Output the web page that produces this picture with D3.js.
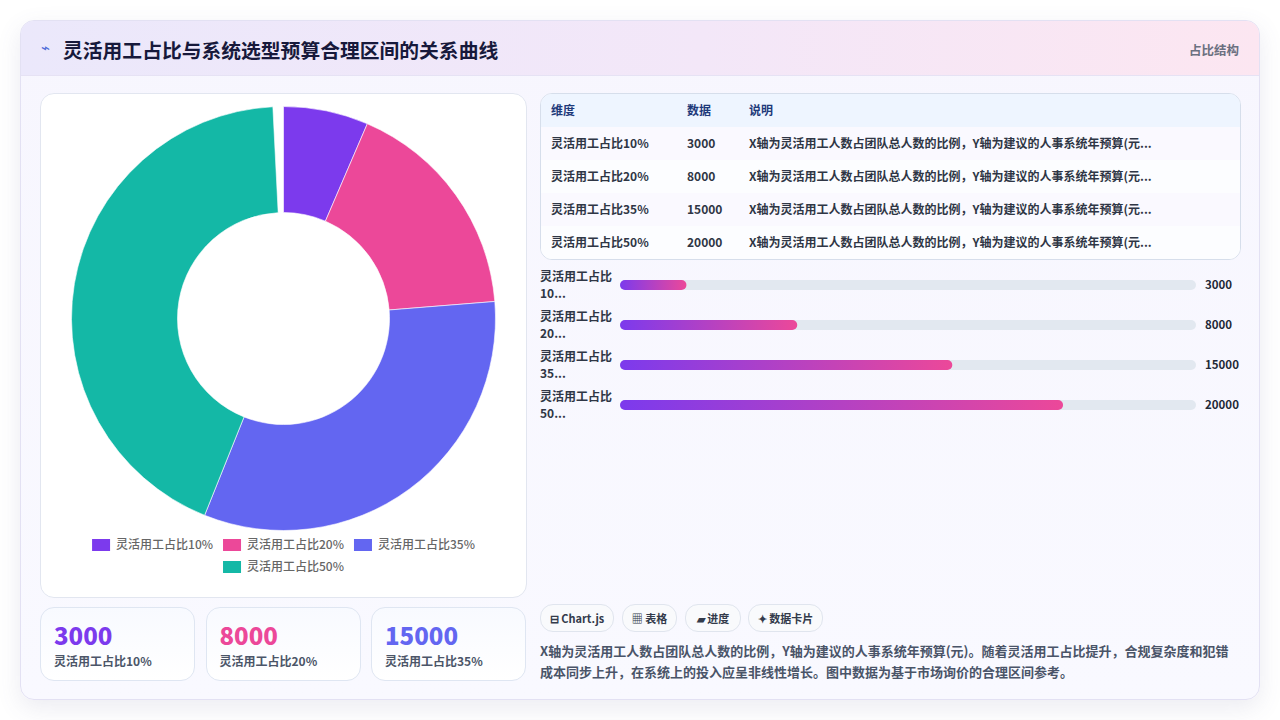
<!DOCTYPE html>
<html>
<head>
<meta charset="utf-8">
<script src="https://cdn.jsdelivr.net/npm/d3@7"></script>
<style>
  html, body { margin:0; padding:0; width:1280px; height:720px; background:#ffffff; overflow:hidden;
    font-family:"Noto Sans CJK SC","Noto Sans",sans-serif; }
  #card { position:absolute; left:20px; top:20px; width:1238px; height:678px; border-radius:14px;
    background:linear-gradient(180deg,#f7f6fe 0%,#f9f9ff 100%); border:1px solid #e3e1f3;
    box-shadow:0 8px 24px rgba(90,90,140,0.12); overflow:hidden; }
  #head { position:absolute; left:0; top:0; width:100%; height:54px;
    background:linear-gradient(90deg,#ebe8fb 0%,#f3e7f8 55%,#fce6f1 100%); border-bottom:1px solid #e6e2f4; }
  #head .icon { position:absolute; left:20px; top:15px; font-size:15px; color:#4f6bd8; }
  #head .title { position:absolute; left:42px; top:14px; font-size:19.8px; font-weight:700; color:#17193b; }
  #head .tag { position:absolute; right:20px; top:19px; font-size:12.5px; font-weight:700; color:#6b7080; }
  .panel { position:absolute; background:#fff; border:1px solid #e2e6f0; border-radius:14px; }
  .kpi { position:absolute; top:586px; width:153px; height:72px; border:1px solid #dfe6f2; border-radius:14px;
    background:linear-gradient(180deg,#f8faff,#ffffff); }
  .kpi .v { position:absolute; left:13px; top:9px; font-size:24px; font-weight:800; }
  .kpi .l { position:absolute; left:13px; top:44px; font-size:12px; font-weight:700; color:#4b5568; }
  #tbl { position:absolute; left:519px; top:72px; width:699px; height:165px; border:1px solid #d6deeb; border-radius:12px; overflow:hidden; background:#fff; }
  .row { position:absolute; left:0; width:100%; height:33px; border-bottom:1px solid #e3e8f0; }
  .row span { position:absolute; top:7px; font-size:12px; font-weight:700; color:#2f3645; white-space:nowrap; }
  .row.hd { background:#eef5ff; }
  .row.hd span { color:#1e3a7a; }
  .chip { position:absolute; top:583px; height:26px; border:1px solid #e0e5ee; border-radius:13px; background:#f9fafc;
    font-size:11px; font-weight:700; color:#333b4b; line-height:26px; text-align:center; }
  #desc { position:absolute; left:519px; top:619px; width:700px; font-size:13px; font-weight:700; color:#4a5468; line-height:21px; }
</style>
</head>
<body>
<div id="card">
  <div id="head">
    <span class="icon">⌁</span>
    <span class="title">灵活用工占比与系统选型预算合理区间的关系曲线</span>
    <span class="tag">占比结构</span>
  </div>
</div>
<script>
// 数据
var categories = ["灵活用工占比10%", "灵活用工占比20%", "灵活用工占比35%", "灵活用工占比50%"];
var values = [3000, 8000, 15000, 20000];
var colors = ["#7c3aed", "#ec4899", "#6366f1", "#14b8a6"];
var note = "X轴为灵活用工人数占团队总人数的比例，Y轴为建议的人事系统年预算(元)。随着灵活用工占比提升，合规复杂度和犯错成本同步上升，在系统上的投入应呈非线性增长。图中数据为基于市场询价的合理区间参考。";
var chips = ["⊟ Chart.js", "▦ 表格", "▰ 进度", "✦ 数据卡片"];
var tableHead = ["维度", "数据", "说明"];

var card = d3.select("#card");

// ---- donut panel ----
var donutPanel = card.append("div").attr("class","panel")
  .style("left","19px").style("top","72px").style("width","485px").style("height","503px");

var svg = donutPanel.append("svg").attr("width",485).attr("height",503);
var cx = 242.5, cy = 224.5, rOut = 212, rIn = 106;

// animation was caught just short of a full turn
var pie = d3.pie().sort(null).startAngle(0).endAngle(Math.PI*2*0.992);
var arc = d3.arc().innerRadius(rIn).outerRadius(rOut);

svg.append("g").attr("transform","translate("+cx+","+cy+")")
  .selectAll("path.slice")
  .data(pie(values))
  .enter().append("path")
  .attr("class","slice")
  .attr("d",arc)
  .attr("fill",function(d,i){return colors[i];})
  .attr("stroke","#ffffff")
  .attr("stroke-width",0.6);

// legend, chart.js style rows
var legend = svg.append("g").attr("class","legend");
var boxW = 18, boxH = 12, gapTxt = 6, itemPad = 10, maxRow = 420;
var tmp = legend.append("text").style("font-size","12px").style("font-weight",500);
var widths = categories.map(function(c){ tmp.text(c); return boxW + gapTxt + tmp.node().getComputedTextLength() + itemPad; });
tmp.remove();
var rows = [[]], rowW = [0];
widths.forEach(function(w,i){
  var r = rows.length-1;
  if(rowW[r] + w > maxRow && rows[r].length){ rows.push([]); rowW.push(0); r++; }
  rows[r].push(i); rowW[r] += w;
});
rows.forEach(function(row,ri){
  var x = (485 - (rowW[ri]-itemPad))/2;
  var y = 451 + ri*22;
  row.forEach(function(i){
    legend.append("rect").attr("x",x).attr("y",y-boxH/2).attr("width",boxW).attr("height",boxH).attr("fill",colors[i]);
    legend.append("text").attr("x",x+boxW+gapTxt).attr("y",y).attr("dy","0.35em")
      .style("font-size","12px").style("font-weight",500).style("fill","#666")
      .text(categories[i]);
    x += widths[i];
  });
});

// ---- kpi cards ----
[0,1,2].forEach(function(i){
  var k = card.append("div").attr("class","kpi").style("left",(19+i*165.5)+"px");
  k.append("div").attr("class","v").style("color",colors[i]).text(values[i]);
  k.append("div").attr("class","l").text(categories[i]);
});

// ---- table ----
var tbl = card.append("div").attr("id","tbl");
var colX = [10, 146, 208];
var hd = tbl.append("div").attr("class","row hd").style("top","0px");
tableHead.forEach(function(t,j){ hd.append("span").style("left",colX[j]+"px").text(t); });
categories.forEach(function(c,i){
  var r = tbl.append("div").attr("class","row").style("top",(33*(i+1))+"px")
    .style("background", i%2==0 ? "#faf9ff" : "#fcfdff")
    .style("border-bottom", i==categories.length-1 ? "none" : null);
  r.append("span").style("left",colX[0]+"px").text(c);
  r.append("span").style("left",colX[1]+"px").text(values[i]);
  r.append("span").style("left",colX[2]+"px").text(note.slice(0,34)+"...");
});

// ---- progress bars ----
var barSvg = card.append("svg").style("position","absolute").style("left","515px").style("top","240px")
  .attr("width",720).attr("height",170);
var defs = barSvg.append("defs");
var grad = defs.append("linearGradient").attr("id","barGrad").attr("gradientUnits","objectBoundingBox");
grad.append("stop").attr("offset","0%").attr("stop-color","#7c3aed");
grad.append("stop").attr("offset","100%").attr("stop-color","#ec4899");

var trackX = 84, trackW = 576;
var x = d3.scaleLinear().domain([0, d3.max(values)*1.3]).range([0, trackW]);
var y = d3.scaleBand().domain(categories).range([4, 164]).paddingInner(0);

var bar = barSvg.selectAll("g.bar").data(categories).enter().append("g").attr("class","bar")
  .attr("transform",function(d){ return "translate(0,"+(y(d)+y.bandwidth()/2)+")"; });
bar.append("text").attr("x",4).attr("y",-4).style("font-size","12px").style("font-weight",700).style("fill","#2f3645")
  .text(function(d){ return d.slice(0,6); });
bar.append("text").attr("x",4).attr("y",13).style("font-size","12px").style("font-weight",700).style("fill","#2f3645")
  .text(function(d){ return d.slice(6,8)+"..."; });
bar.append("rect").attr("x",trackX).attr("y",-5).attr("height",10).attr("rx",5)
  .attr("width",trackW).attr("fill","#e2e8f0");
bar.append("rect").attr("x",trackX).attr("y",-5).attr("height",10).attr("rx",5)
  .attr("width",function(d,i){ return x(values[i]); }).attr("fill","url(#barGrad)");
bar.append("text").attr("x",trackX+trackW+9).attr("dy","0.35em")
  .style("font-size","11.5px").style("font-weight",700).style("fill","#1f2937")
  .text(function(d,i){ return values[i]; });

// ---- chips ----
var chipX = [519, 601, 664, 727], chipW = [72, 53, 54, 73];
chips.forEach(function(c,i){
  card.append("div").attr("class","chip").style("left",chipX[i]+"px").style("width",chipW[i]+"px").text(c);
});

card.append("div").attr("id","desc").text(note);
</script>
</body>
</html>
